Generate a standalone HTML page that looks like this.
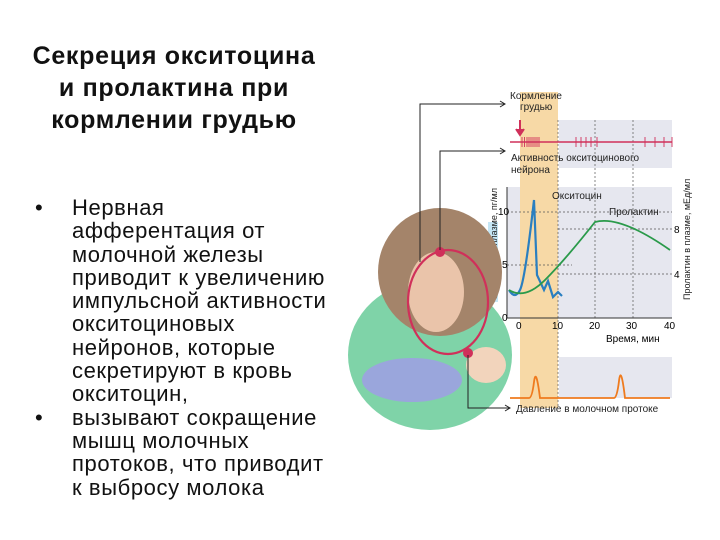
<!DOCTYPE html>
<html><head><meta charset="utf-8"><style>
body{margin:0;width:720px;height:540px;background:#fff;position:relative;overflow:hidden;font-family:"Liberation Sans",sans-serif}
.t{position:absolute;left:0;width:348px;top:40px;text-align:center;font-weight:bold;font-size:25px;letter-spacing:0.7px;line-height:32px;color:#111}
.b{position:absolute;left:35px;top:196px;width:320px;font-size:22px;letter-spacing:0.6px;line-height:23.3px;color:#111}
.b div{padding-left:37px;text-indent:-37px}
.b span{display:inline-block;width:37px;text-indent:0}
</style></head><body>
<div class="t">Секреция окситоцина<br>и пролактина при<br>кормлении грудью</div>
<div class="b">
<div><span>•</span>Нервная<br>афферентация от<br>молочной железы<br>приводит к увеличению<br>импульсной активности<br>окситоциновых<br>нейронов, которые<br>секретируют в кровь<br>окситоцин,</div>
<div><span>•</span>вызывают сокращение<br>мышц молочных<br>протоков, что приводит<br>к выбросу молока</div>
</div>
<svg width="720" height="540" style="position:absolute;left:0;top:0" font-family="Liberation Sans, sans-serif">
<rect x="559" y="120" width="113" height="48" fill="#e6e7ef"/>
<rect x="507" y="187" width="165" height="131" fill="#e6e7ef"/>
<rect x="559" y="357" width="113" height="41" fill="#e6e7ef"/>
<rect x="520" y="92" width="38" height="316" fill="#f7d9a6"/>
<g stroke="#555" stroke-width="0.7" stroke-dasharray="2,2">
<line x1="558" y1="120" x2="558" y2="408"/><line x1="595" y1="120" x2="595" y2="318"/><line x1="633" y1="120" x2="633" y2="318"/>
<line x1="507" y1="212" x2="672" y2="212"/><line x1="507" y1="265" x2="572" y2="265"/><line x1="558" y1="229" x2="672" y2="229"/><line x1="558" y1="274" x2="672" y2="274"/></g>
<line x1="507" y1="187" x2="507" y2="318" stroke="#333"/><line x1="507" y1="318" x2="672" y2="318" stroke="#333"/>
<line x1="510" y1="142" x2="672" y2="142" stroke="#d0305a" stroke-width="1.5"/>
<g stroke="#d0305a" stroke-width="0.9">
<path d="M522 137v10M524.5 137v10M527 137v10M529 137v10M531 137v10M533 137v10M535 137v10M537 137v10M539 137v10M576 137v10M581 137v10M586 137v10M591 137v10M597 137v10M645 137v10M655 137v10M664 137v10M672 137v10"/></g>
<path d="M520 120v14M516 129l4 6 4-6" stroke="#d0305a" stroke-width="2" fill="#d0305a"/>
<text x="510" y="99" font-size="10" fill="#222">Кормление</text><text x="520" y="110" font-size="10" fill="#222">грудью</text>
<text x="511" y="161" font-size="10" fill="#222">Активность окситоцинового</text><text x="511" y="173" font-size="10" fill="#222">нейрона</text>
<text x="552" y="199" font-size="10" fill="#222">Окситоцин</text><text x="609" y="215" font-size="10" fill="#222">Пролактин</text>
<text x="498" y="215" font-size="10">10</text><text x="502" y="268" font-size="10">5</text><text x="502" y="321" font-size="10">0</text>
<text x="674" y="233" font-size="10">8</text><text x="674" y="278" font-size="10">4</text>
<text x="516" y="329" font-size="10">0</text><text x="552" y="329" font-size="10">10</text><text x="589" y="329" font-size="10">20</text><text x="626" y="329" font-size="10">30</text><text x="664" y="329" font-size="10">40</text>
<text x="606" y="342" font-size="10">Время, мин</text>
<text x="516" y="412" font-size="10" fill="#222">Давление в молочном протоке</text>
<rect x="488" y="222" width="10" height="80" fill="#9fd6ef" opacity="0.6"/>
<text transform="translate(497,300) rotate(-90)" font-size="9" fill="#222">Окситоцин в плазме, пг/мл</text>
<text transform="translate(690,300) rotate(-90)" font-size="9" fill="#222">Пролактин в плазме, мЕд/мл</text>
<path d="M509 290Q515 300 520 290T534 200L537 275 544 290 548 281 553 297 558 292 562 296" stroke="#2a7fc0" stroke-width="2.2" fill="none"/>
<path d="M509 290Q525 300 545 280T595 222Q620 215 670 250" stroke="#2a9a4a" stroke-width="1.8" fill="none"/>
<path d="M510 398H529Q532 398 534 382T540 398H614Q617 398 619 381T625 398H670" stroke="#ef7b1e" stroke-width="1.8" fill="none"/>
<ellipse cx="430" cy="355" rx="82" ry="75" fill="#7fd3a8"/>
<ellipse cx="440" cy="272" rx="62" ry="64" fill="#a4846a"/>
<ellipse cx="436" cy="292" rx="28" ry="40" fill="#eac4aa"/>
<ellipse cx="412" cy="380" rx="50" ry="22" fill="#9aa6dc"/>
<ellipse cx="486" cy="365" rx="20" ry="18" fill="#f2d4bc"/>
<ellipse cx="448" cy="302" rx="40" ry="52" stroke="#d0305a" stroke-width="2.2" fill="none"/>
<circle cx="440" cy="252" r="5" fill="#d0305a"/><circle cx="468" cy="353" r="5" fill="#d0305a"/>
<g stroke="#222" stroke-width="1" fill="none">
<path d="M420 262V104H505M500 101l5 3-5 3"/><path d="M440 250V151H505M500 148l5 3-5 3"/><path d="M468 355V408H510M505 405l5 3-5 3"/></g>
</svg>
</body></html>
